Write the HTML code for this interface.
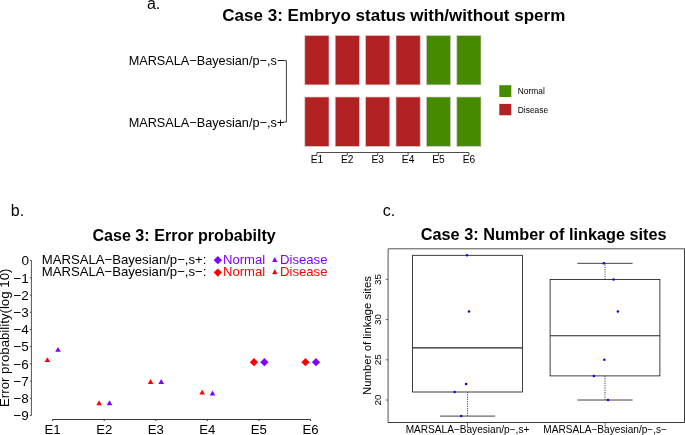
<!DOCTYPE html>
<html><head><meta charset="utf-8"><title>Case 3</title>
<style>
html,body{margin:0;padding:0;background:#fff;}
body{width:685px;height:435px;overflow:hidden;}
svg{display:block;will-change:transform;font-family:"Liberation Sans",sans-serif;fill:#000;}
.t{font-weight:bold;}
</style></head><body>
<svg width="685" height="435" viewBox="0 0 685 435">
<rect width="685" height="435" fill="#fff"/>

<!-- panel a -->
<text x="146.9" y="9.4" font-size="16">a.</text>
<text class="t" x="393.8" y="20.8" text-anchor="middle" font-size="17">Case 3: Embryo status with/without sperm</text>
<text x="284.2" y="65" text-anchor="end" font-size="12.7">MARSALA−Bayesian/p−,s−</text>
<text x="284.2" y="126.8" text-anchor="end" font-size="12.7">MARSALA−Bayesian/p−,s+</text>
<path d="M283 60.6H286.4V122H283" fill="none" stroke="#111" stroke-width="0.8"/>
<g stroke="#d9c9c9" stroke-width="0.7">
<rect x="304.8" y="35.5" width="24.2" height="49.4" fill="#b22222"/>
<rect x="335.2" y="35.5" width="24.2" height="49.4" fill="#b22222"/>
<rect x="365.6" y="35.5" width="24.2" height="49.4" fill="#b22222"/>
<rect x="396.0" y="35.5" width="24.2" height="49.4" fill="#b22222"/>
<rect x="426.4" y="35.5" width="24.2" height="49.4" fill="#458b00"/>
<rect x="456.8" y="35.5" width="24.2" height="49.4" fill="#458b00"/>
<rect x="304.8" y="97.0" width="24.2" height="49.4" fill="#b22222"/>
<rect x="335.2" y="97.0" width="24.2" height="49.4" fill="#b22222"/>
<rect x="365.6" y="97.0" width="24.2" height="49.4" fill="#b22222"/>
<rect x="396.0" y="97.0" width="24.2" height="49.4" fill="#b22222"/>
<rect x="426.4" y="97.0" width="24.2" height="49.4" fill="#458b00"/>
<rect x="456.8" y="97.0" width="24.2" height="49.4" fill="#458b00"/>
</g>
<path d="M316.9 155.6V152.5H468.9V155.6M347.3 152.5V155.6M377.7 152.5V155.6M408.1 152.5V155.6M438.5 152.5V155.6" fill="none" stroke="#111" stroke-width="0.75"/>
<g font-size="10.2" text-anchor="middle">
<text x="316.9" y="163.2">E1</text>
<text x="347.3" y="163.2">E2</text>
<text x="377.7" y="163.2">E3</text>
<text x="408.1" y="163.2">E4</text>
<text x="438.5" y="163.2">E5</text>
<text x="468.9" y="163.2">E6</text>
</g>
<rect x="499.3" y="85.2" width="12" height="11.8" fill="#458b00"/>
<rect x="499.3" y="103.9" width="12" height="11.4" fill="#b22222"/>
<text x="517.8" y="94" font-size="8.4">Normal</text>
<text x="517.8" y="112.6" font-size="8.4">Disease</text>
<!-- panel b -->
<text x="10.8" y="215.6" font-size="16">b.</text>
<text class="t" x="184.1" y="240.8" text-anchor="middle" font-size="16.1">Case 3: Error probabilty</text>
<path d="M31.4 260.3V415.5M31.4 260.3H29.9M31.4 277.9H29.9M31.4 295.1H29.9M31.4 312.3H29.9M31.4 329.5H29.9M31.4 346.7H29.9M31.4 363.9H29.9M31.4 381.1H29.9M31.4 398.3H29.9M31.4 415.5H29.9" fill="none" stroke="#333" stroke-width="0.85"/>
<g font-size="13.5" text-anchor="end">
<text x="28.9" y="265.4">0</text>
<text x="28.9" y="282.6">−1</text>
<text x="28.9" y="299.8">−2</text>
<text x="28.9" y="317.0">−3</text>
<text x="28.9" y="334.2">−4</text>
<text x="28.9" y="351.4">−5</text>
<text x="28.9" y="368.6">−6</text>
<text x="28.9" y="385.8">−7</text>
<text x="28.9" y="403.0">−8</text>
<text x="28.9" y="420.2">−9</text>
</g>
<text transform="translate(9.2 337.8) rotate(-90)" text-anchor="middle" font-size="13.25">Error probability(log 10)</text>
<path d="M52.6 419.5H310.5M52.6 419.5V421M104.2 419.5V421M155.8 419.5V421M207.3 419.5V421M258.9 419.5V421M310.5 419.5V421" fill="none" stroke="#222" stroke-width="0.9"/>
<g font-size="13.2" text-anchor="middle">
<text x="52.6" y="433.8">E1</text>
<text x="104.2" y="433.8">E2</text>
<text x="155.8" y="433.8">E3</text>
<text x="207.3" y="433.8">E4</text>
<text x="258.9" y="433.8">E5</text>
<text x="310.5" y="433.8">E6</text>
</g>
<text x="41.7" y="263.9" font-size="13.15">MARSALA−Bayesian/p−,s+:</text>
<text x="41.7" y="276" font-size="13.15">MARSALA−Bayesian/p−,s−:</text>
<path d="M213.7 260.2L217.8 256.1L222.0 260.2L217.8 264.3Z" fill="#7f00ff"/>
<path d="M213.7 272.6L217.8 268.5L222.0 272.6L217.8 276.8Z" fill="#ff0000"/>
<text x="223" y="263.9" font-size="13.1" fill="#7f00ff">Normal</text>
<text x="223" y="276" font-size="13.1" fill="#ff0000">Normal</text>
<path d="M272.1 262.0L274.8 256.9L277.5 262.0Z" fill="#7f00ff"/>
<path d="M272.1 274.2L274.8 269.1L277.5 274.2Z" fill="#ff0000"/>
<text x="280" y="263.9" font-size="13.15" fill="#7f00ff">Disease</text>
<text x="280" y="276" font-size="13.15" fill="#ff0000">Disease</text>
<path d="M44.6 362.1L47.4 357.2L50.2 362.1Z" fill="#ff0000"/>
<path d="M55.2 351.8L58.0 346.9L60.8 351.8Z" fill="#7f00ff"/>
<path d="M96.3 405.2L99.1 400.3L101.9 405.2Z" fill="#ff0000"/>
<path d="M106.7 405.2L109.5 400.3L112.3 405.2Z" fill="#7f00ff"/>
<path d="M147.8 383.9L150.6 379.0L153.4 383.9Z" fill="#ff0000"/>
<path d="M158.4 383.9L161.2 379.0L164.0 383.9Z" fill="#7f00ff"/>
<path d="M199.4 394.6L202.2 389.7L205.0 394.6Z" fill="#ff0000"/>
<path d="M209.7 395.4L212.5 390.5L215.3 395.4Z" fill="#7f00ff"/>
<path d="M249.8 362.2L254.0 358.1L258.1 362.2L254.0 366.3Z" fill="#ff0000"/>
<path d="M260.2 362.2L264.4 358.1L268.5 362.2L264.4 366.3Z" fill="#7f00ff"/>
<path d="M301.4 362.2L305.5 358.1L309.6 362.2L305.5 366.3Z" fill="#ff0000"/>
<path d="M311.9 362.2L316.0 358.1L320.1 362.2L316.0 366.3Z" fill="#7f00ff"/>
<!-- panel c -->
<text x="382.8" y="216" font-size="16">c.</text>
<text class="t" x="543.7" y="239.6" text-anchor="middle" font-size="16.27">Case 3: Number of linkage sites</text>
<path d="M684.5 248.8V422.5H388.1" fill="none" stroke="#3a3a3a" stroke-width="1"/>
<path d="M388.1 422.9V248.8H684.9" fill="none" stroke="#4a4a4a" stroke-width="0.95"/>
<path d="M388.1 400.0H385.6M388.1 359.8H385.6M388.1 319.6H385.6M388.1 279.4H385.6M467.5 422.3V427.2M605.1 422.3V427.2" fill="none" stroke="#333" stroke-width="0.7"/>
<g font-size="9.9" text-anchor="middle">
<text transform="translate(380.8 400.0) rotate(-90)">20</text>
<text transform="translate(380.8 359.8) rotate(-90)">25</text>
<text transform="translate(380.8 319.6) rotate(-90)">30</text>
<text transform="translate(380.8 279.4) rotate(-90)">35</text>
</g>
<text transform="translate(371.2 335.5) rotate(-90)" text-anchor="middle" font-size="11.4">Number of linkage sites</text>
<text x="467.5" y="433.1" text-anchor="middle" font-size="10.1">MARSALA−Bayesian/p−,s+</text>
<text x="605.1" y="433.1" text-anchor="middle" font-size="10.1">MARSALA−Bayesian/p−,s−</text>
<rect x="412.6" y="255.3" width="109.8" height="136.7" fill="none" stroke="#111" stroke-width="0.8"/><path d="M412.6 347.8H522.4" stroke="#222" stroke-width="1.15"/><path d="M467.5 392.0V416.1" stroke="#444" stroke-width="1" stroke-dasharray="1.15 1.15" fill="none"/><path d="M439.9 416.10H495.1" stroke="#444" stroke-width="1" fill="none"/>
<rect x="550.1" y="279.4" width="109.8" height="96.5" fill="none" stroke="#111" stroke-width="0.8"/><path d="M550.1 335.7H659.9" stroke="#222" stroke-width="1.15"/><path d="M605.0 279.4V263.3M605.0 375.9V400.0" stroke="#444" stroke-width="1" stroke-dasharray="1.15 1.15" fill="none"/><path d="M577.4 263.34H632.6M577.4 400.02H632.6" stroke="#444" stroke-width="1" fill="none"/>
<g fill="#0000ff">
<circle cx="467" cy="255.3" r="1.25"/>
<circle cx="469" cy="311.6" r="1.25"/>
<circle cx="466.1" cy="383.9" r="1.25"/>
<circle cx="454.6" cy="392.0" r="1.25"/>
<circle cx="461.2" cy="416.1" r="1.25"/>
<circle cx="603.8" cy="263.3" r="1.25"/>
<circle cx="613.5" cy="279.4" r="1.25"/>
<circle cx="617.9" cy="311.6" r="1.25"/>
<circle cx="604.3" cy="359.8" r="1.25"/>
<circle cx="593.9" cy="375.9" r="1.25"/>
<circle cx="608" cy="400.0" r="1.25"/>
</g>
</svg>
</body></html>
